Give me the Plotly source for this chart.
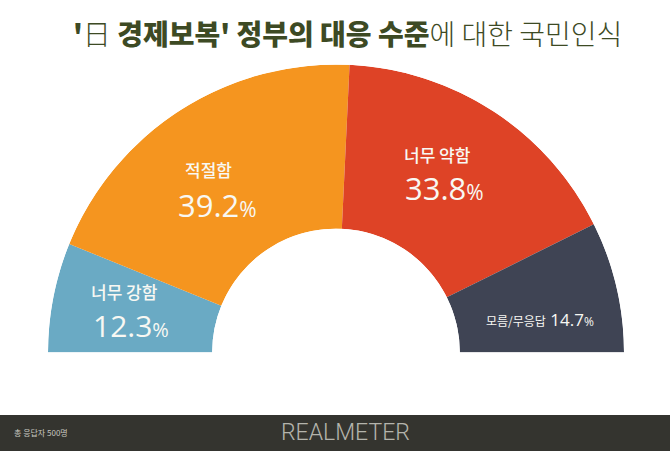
import plotly.graph_objects as go
import numpy as np

# Data
categories = ["너무 강함", "적절함", "너무 약함", "모름/무응답"]
values = [12.3, 39.2, 33.8, 14.7]
colors = ["#6aaac4", "#f5951f", "#de4326", "#3f4454"]

W, H = 670, 451

vals = np.array(values)
total = vals.sum()
widths = vals / total * 180.0
ends = 180.0 - np.cumsum(widths)
centers = ends + widths / 2.0

fig = go.Figure()
fig.add_trace(go.Barpolar(
    r=[1] * len(values),
    theta=centers,
    width=widths,
    marker=dict(color=colors, line=dict(width=0)),
    hoverinfo="skip",
    showlegend=False,
))


def px(x, y):
    return x / W, 1 - y / H


pie_left, pie_right, pie_top, pie_bottom = 48, 624, 64.5, 352.5
fig.update_layout(
    width=W, height=H,
    margin=dict(l=0, r=0, t=0, b=0),
    paper_bgcolor="white",
    plot_bgcolor="white",
    polar=dict(
        domain=dict(x=[pie_left / W, pie_right / W], y=[1 - pie_bottom / H, 1 - pie_top / H]),
        sector=[0, 180],
        hole=0.43,
        bgcolor="rgba(0,0,0,0)",
        radialaxis=dict(visible=False, range=[0, 1]),
        angularaxis=dict(visible=False, rotation=0, direction="counterclockwise"),
    ),
)

# footer bar
fig.add_shape(type="rect", xref="paper", yref="paper", x0=0, x1=1, y0=0, y1=1 - 415 / H,
              fillcolor="#34342f", line=dict(width=0), layer="below")

kfont = "Noto Sans CJK KR"
nfont = "Open Sans"
tc = "#f8f8f3"

annos = []


def add(text, x, y, size, family, color=tc, xanchor="center", weight="normal"):
    ax, ay = px(x, y)
    annos.append(dict(text=text, x=ax, y=ay, xref="paper", yref="paper", showarrow=False,
                      xanchor=xanchor, yanchor="middle",
                      font=dict(size=size, family=family, color=color, weight=weight)))


def pct(v, size):
    return f"{v}<span style='font-size:{int(size*0.68)}px'>%</span>"

# slice labels
add(categories[0], 124, 291, 17, kfont, weight=500)
add(pct(values[0], 30), 131, 325, 30, nfont, weight=500)
add(categories[1], 208, 169, 17, kfont, weight=500)
add(pct(values[1], 31), 217, 205, 31, nfont, weight=500)
add(categories[2], 437, 154, 17, kfont, weight=500)
add(pct(values[2], 31), 444, 188, 31, nfont, weight=500)
add(f"<span style='font-size:12px;font-family:\"{kfont}\"'>{categories[3]}</span> "
    f"{values[3]}<span style='font-size:12px'>%</span>", 540, 319, 17, nfont)

# title
title = ("<span style='font-weight:900'>'</span><span style='font-weight:300'>日</span> "
         "<span style='font-weight:900'>경제보복' 정부의 대응 수준</span>"
         "<span style='font-weight:300'>에 대한 국민인식</span>")
add(title, 347, 33, 28, kfont, color="#3d4a24")

# footer texts
add("총 응답자 500명", 12, 432, 8, kfont, color="#c8c8c0", xanchor="left")
add("REALMETER", 345, 432, 23, "Roboto", color="#b4b4ac", weight=300)

fig.update_layout(annotations=annos)

fig.write_html("out.html", config={"displayModeBar": False},
               post_script="document.body.style.margin='0';document.body.style.padding='0';")
